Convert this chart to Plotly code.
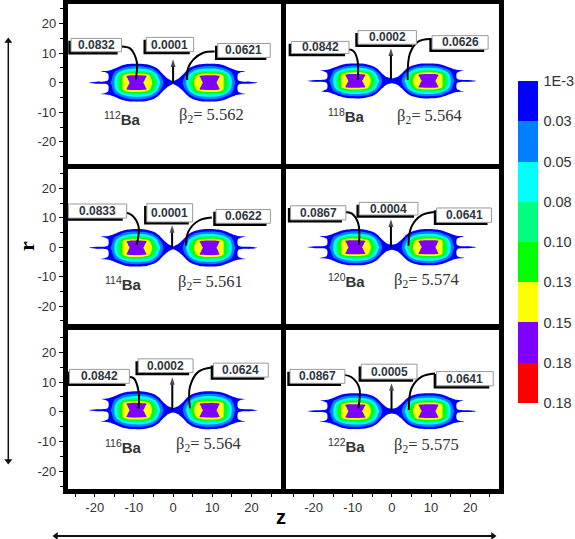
import numpy as np
import plotly.graph_objects as go
from plotly.subplots import make_subplots

# ---- colour bar ----
BAR_LABELS = ["1E-3", "0.03", "0.05", "0.08", "0.10", "0.13", "0.15", "0.18", "0.18"]
BAND_COLORS = ["#0000ff", "#0080ff", "#00ffff", "#00ff80", "#00ff00", "#ffff00", "#8000ff", "#ff0000"]

# ---- nuclei, top-left to bottom-right (row, col) ----
NUCLEI = ["112", "118", "114", "120", "116", "122"]
BETA = ["5.562", "5.564", "5.561", "5.574", "5.564", "5.575"]
LEFT_VAL = ["0.0832", "0.0842", "0.0833", "0.0867", "0.0842", "0.0867"]
MID_VAL = ["0.0001", "0.0002", "0.0001", "0.0004", "0.0002", "0.0005"]
RIGHT_VAL = ["0.0621", "0.0626", "0.0622", "0.0641", "0.0624", "0.0641"]

# ---- density field of one lobe, in colour-band position (0 = 1E-3 edge, 1 = 0.03 edge ...) ----
U_NODES = [0, 1.5, 2.5, 3.5, 4.5, 5.5, 6.5, 7.5, 9, 10.5, 11.5, 12.5, 13.5, 14.5, 15.5, 16.5, 17.5, 18.5, 19.5, 21.5, 22.5]
R_NODES = [0, 0.7, 1.4, 2.2, 3, 3.8, 4.6, 5.4, 6.2, 7]
FIELD = [
    [0.4, 0.6, 1.0, 2.3, 4.0, 5.15, 5.5, 5.95, 6.5, 6.25, 5.85, 5.4, 4.4, 2.7, 1.25, 0.7, 0.5, 0.5, 0.5, 0.0, -1],
    [-0.2, 0.5, 0.9, 2.1, 3.8, 5.1, 5.6, 6.1, 6.5, 6.3, 5.95, 5.45, 4.4, 2.7, 1.25, 0.1, -0.4, -0.5, -0.5, -1, -1],
    [-1, 0.1, 0.7, 1.8, 3.4, 4.9, 5.7, 6.2, 6.5, 6.4, 6.05, 5.5, 4.3, 2.6, 1.1, -0.05, -0.6, -1, -1, -1, -1],
    [-1, -0.5, 0.4, 1.5, 2.9, 4.5, 5.9, 6.3, 6.4, 6.4, 6.25, 5.6, 4.0, 2.3, 0.9, -0.05, -0.8, -1, -1, -1, -1],
    [-1, -1, -0.2, 0.9, 2.3, 3.7, 4.6, 5.1, 5.3, 5.3, 5.1, 4.5, 3.3, 1.7, 0.6, 0.05, -0.5, -1, -1, -1, -1],
    [-1, -1, -0.9, 0.3, 1.4, 2.3, 2.9, 3.2, 3.35, 3.3, 3.1, 2.6, 1.9, 1.2, 0.5, 0.3, 0.2, 0.05, -0.6, -1, -1],
    [-1, -1, -1, -0.3, 0.5, 1.4, 1.9, 2.15, 2.25, 2.2, 2.0, 1.6, 1.0, 0.4, -0.1, -0.6, -1, -1, -1, -1, -1],
    [-1, -1, -1, -1, -0.2, 0.4, 0.8, 1.1, 1.25, 1.2, 1.0, 0.7, 0.2, -0.4, -1, -1, -1, -1, -1, -1, -1],
    [-1, -1, -1, -1, -1, -0.5, -0.1, 0.2, 0.35, 0.3, 0.1, -0.2, -0.7, -1, -1, -1, -1, -1, -1, -1, -1],
    [-1, -1, -1, -1, -1, -1, -1, -1, -1, -1, -1, -1, -1, -1, -1, -1, -1, -1, -1, -1, -1],
]
# neck value on z = 0 for r = 0 and r = 0.7, per panel
NECK_R0 = [0.4, 0.7, 0.4, 0.7, 0.6, 0.7]
NECK_R1 = [-0.2, 0.3, -0.2, 0.3, 0.1, 0.3]
LOBE_HEIGHT = [6.5, 6.0, 6.45, 6.25, 6.45, 6.1]
LOBE_CENTER_R = [0.0, 0.6, -0.2, 0.0, 0.5, 0.2]

# ---- call-out boxes (z, r centre, width, height), per panel ----
BOX_A_Z = [-19.6, -18.3, -19.3, -18.8, -18.8, -19.0]
BOX_A_R = [12.7, 11.9, 12.3, 11.7, 11.9, 11.9]
BOX_A_W = [12.9, 14.7, 14.9, 14.1, 15.3, 14.0]
BOX_A_H = [4.5, 4.1, 4.8, 4.8, 4.7, 4.7]
BOX_B_Z = [-0.8, -1.2, -0.85, -0.85, -1.9, -0.7]
BOX_B_R = [12.9, 15.3, 11.7, 13.1, 15.5, 13.5]
BOX_B_W = [12.1, 14.9, 11.7, 15.0, 14.0, 14.2]
BOX_B_H = [4.8, 4.6, 6.2, 4.3, 4.6, 5.0]
BOX_C_Z = [18.1, 17.4, 17.9, 18.4, 17.3, 18.6]
BOX_C_R = [10.9, 13.6, 10.5, 10.9, 14.0, 11.1]
BOX_C_W = [13.4, 14.3, 13.9, 14.0, 14.0, 14.5]
BOX_C_H = [4.7, 4.6, 4.7, 4.9, 4.7, 4.8]

# ---- call-out curves and arrows ----
CURVE_L_Z = [[-13.2, -11, -9.8, -9.2, -9.5], [-11.7, -9.9, -8.8, -8.7], [-12.2, -10.5, -8.8, -9.3],
             [-12, -10.3, -8.6, -8.4], [-12, -10.1, -8.8, -8.8], [-12.4, -10.3, -8.3, -8.6]]
CURVE_L_R = [[12.2, 11.6, 9.3, 6.5, 1.1], [11.3, 10.8, 7.7, 0.9], [11.8, 10.9, 7.0, 0.8],
             [12, 11.5, 8.1, 0.8], [11.6, 11.3, 6.8, 1.1], [12.4, 11.6, 7.9, 1.1]]
CURVE_R_Z = [[10.6, 7.7, 5.1, 3.8, 3.6], [9.7, 6.7, 4.6, 4.0], [9.9, 6.5, 3.9, 3.3],
             [11, 7.6, 5, 4.2], [9.9, 6.5, 4.3, 4.3], [11, 7.6, 5, 4.3]]
CURVE_R_R = [[10.5, 10.1, 7.7, 4.8, 0.9], [14.8, 13.9, 9.9, 0.9], [10.1, 9.0, 5.3, 0.5],
             [12, 10.9, 7, 0.5], [14.9, 13.5, 8.4, 1.1], [12.9, 11.8, 7.9, 0.6]]
ARROW_Z = [0.0, -0.25, -0.25, -0.25, -0.2, -0.1]
ARROW_FROM = [0.0, 0.9, -0.3, 0.0, 0.5, 0.0]
ARROW_TO = [7.9, 11.6, 7.5, 9.5, 11.6, 9.6]

# ---- element and beta labels ----
BA_Z = [-12.9, -11.7, -12.7, -11.6, -12.7, -11.6]
BA_R = [-12.0, -11.1, -12.2, -11.3, -11.6, -11.3]
BETA_Z = [9.8, 9.7, 9.6, 8.8, 9.1, 8.8]
BETA_R = [-10.9, -11.1, -11.9, -11.3, -11.0, -11.3]

# ---- axis windows ----
X_RANGE = [[-26.9, 27.55], [-27.1, 27.4]]
Y_RANGE = [[-27.5, 26.6], [-26.1, 26.6], [-26.0, 27.5]]
TICKS = [-20, -10, 0, 10, 20]
W, H = 575, 539
COL_PX = [(67.7, 281.0), (285.7, 499.3)]
ROW_PX = [(4.0, 164.0), (169.0, 324.0), (330.0, 489.0)]

# long r and z direction arrows, on a page-wide overlay axis
R_ARROW_X = [8.3, 8.3]
R_ARROW_Y = [41, 461]
Z_ARROW_X = [56, 493]
Z_ARROW_Y = [536, 536]

INK = "#333333"
SANS = "Liberation Sans"
SERIF = "Liberation Serif"

scale = [[0, "#ffffff"], [1 / 9, "#ffffff"]]
for i, c in enumerate(BAND_COLORS):
    scale += [[(i + 1) / 9, c], [(i + 2) / 9, c]]

bar_scale = []
for i, c in enumerate(BAND_COLORS[::-1]):
    bar_scale += [[i / 8, c], [(i + 1) / 8, c]]

fig = make_subplots(rows=3, cols=2, horizontal_spacing=0.01, vertical_spacing=0.01)

u = np.array(U_NODES, dtype=float)
r = np.array(R_NODES, dtype=float)
x_grid = np.concatenate([-u[::-1], u[1:]])

for k, name in enumerate(NUCLEI):
    row, col = k // 2 + 1, k % 2 + 1
    xa = "x" if k == 0 else f"x{k + 1}"
    ya = "y" if k == 0 else f"y{k + 1}"
    q = np.array(FIELD, dtype=float)
    q[0, 0] = NECK_R0[k]
    q[1, 0] = NECK_R1[k]
    half = np.hstack([q[:, ::-1], q[:, 1:]])
    full = np.vstack([half[::-1], half[1:]])
    rr = r * LOBE_HEIGHT[k] / 6.5
    y_grid = np.concatenate([-rr[::-1], rr[1:]]) + LOBE_CENTER_R[k]
    fig.add_trace(go.Contour(
        x=x_grid, y=y_grid, z=full, zauto=False, zmin=-1, zmax=8,
        autocontour=False, contours=dict(start=-1, end=8, size=1, coloring="fill", showlines=False),
        line=dict(width=0, smoothing=0.85), colorscale=scale, showscale=False, hoverinfo="skip",
    ), row=row, col=col)

    boxes = [
        (BOX_A_Z[k], BOX_A_R[k], BOX_A_W[k], BOX_A_H[k], LEFT_VAL[k]),
        (BOX_B_Z[k], BOX_B_R[k], BOX_B_W[k], BOX_B_H[k], MID_VAL[k]),
        (BOX_C_Z[k], BOX_C_R[k], BOX_C_W[k], BOX_C_H[k], RIGHT_VAL[k]),
    ]
    for zc, rc, bw, bh, txt in boxes:
        fig.add_shape(type="rect", xref=xa, yref=ya, x0=zc - bw / 2 - 0.7, x1=zc + bw / 2 - 1.0,
                      y0=rc - bh / 2 - 0.9, y1=rc + bh / 2 - 0.8,
                      fillcolor="#000000", line=dict(width=0))
        fig.add_shape(type="rect", xref=xa, yref=ya, x0=zc - bw / 2, x1=zc + bw / 2,
                      y0=rc - bh / 2, y1=rc + bh / 2,
                      fillcolor="#ffffff", line=dict(color="#999999", width=1))
        fig.add_annotation(xref=xa, yref=ya, x=zc, y=rc, text=f"<b>{txt}</b>", showarrow=False,
                           font=dict(family=SANS, size=12, color="#2f3640"))

    for zs, rs in [(CURVE_L_Z[k], CURVE_L_R[k]), (CURVE_R_Z[k], CURVE_R_R[k])]:
        fig.add_trace(go.Scatter(x=zs, y=rs, mode="lines", showlegend=False, hoverinfo="skip",
                                 line=dict(color="#000000", width=2, shape="spline")), row=row, col=col)

    fig.add_trace(go.Scatter(x=[ARROW_Z[k], ARROW_Z[k]], y=[ARROW_FROM[k], ARROW_TO[k]],
                             mode="lines+markers", showlegend=False, hoverinfo="skip",
                             line=dict(color="#000000", width=2),
                             marker=dict(symbol="arrow", angleref="previous", size=[0, 8],
                                         color="#000000", line=dict(width=0))), row=row, col=col)

    fig.add_annotation(xref=xa, yref=ya, x=BA_Z[k], y=BA_R[k], showarrow=False,
                       text=f"<sup>{name}</sup><b>Ba</b>", font=dict(family=SANS, size=15, color=INK))
    fig.add_annotation(xref=xa, yref=ya, x=BETA_Z[k], y=BETA_R[k], showarrow=False,
                       text=f"β<sub>2</sub>= {BETA[k]}", font=dict(family=SERIF, size=16.5, color=INK))

    on_left, on_bottom = col == 1, row == 3
    common = dict(showgrid=False, zeroline=False, showline=True, linewidth=4.6, linecolor="#000000",
                  mirror=True, tickfont=dict(family=SANS, size=13, color=INK), tickmode="array",
                  tickvals=TICKS, ticktext=[str(t) for t in TICKS], tickcolor="#000000", tickwidth=1.2)
    fig.update_xaxes(common, range=X_RANGE[col - 1], row=row, col=col,
                     domain=[COL_PX[col - 1][0] / W, COL_PX[col - 1][1] / W],
                     ticks="outside" if on_bottom else "", ticklen=3, showticklabels=on_bottom,
                     minor=dict(ticks="outside" if on_bottom else "", dtick=5, tick0=0, ticklen=3,
                                tickcolor="#000000", tickwidth=1.2))
    fig.update_yaxes(common, range=Y_RANGE[row - 1], row=row, col=col,
                     domain=[1 - ROW_PX[row - 1][1] / H, 1 - ROW_PX[row - 1][0] / H],
                     ticks="outside" if on_left else "", ticklen=4, showticklabels=on_left,
                     minor=dict(ticks="outside" if on_left else "", dtick=5, tick0=0, ticklen=3,
                                tickcolor="#000000", tickwidth=1.2))

# colour bar, drawn from the band list
fig.add_trace(go.Scatter(
    x=[None], y=[None], mode="markers", showlegend=False, hoverinfo="skip",
    marker=dict(color=[0], cmin=0, cmax=8, colorscale=bar_scale, showscale=True,
                colorbar=dict(
                    x=517.7 / W, xanchor="left", y=1 - 81 / H, yanchor="top",
                    lenmode="pixels", len=322, thicknessmode="pixels", thickness=19.6,
                    outlinewidth=0, xpad=0, ypad=0, tickmode="array",
                    tickvals=list(range(9)), ticktext=BAR_LABELS[::-1],
                    ticks="outside", ticklen=3, tickcolor="rgba(0,0,0,0)",
                    tickfont=dict(family=SANS, size=14.5, color=INK))),
))

# axis titles and long arrows
fig.add_annotation(xref="paper", yref="paper", x=27 / W, y=1 - 246 / H, text="<b>r</b>", textangle=-90,
                   xanchor="center", yanchor="middle", showarrow=False,
                   font=dict(family=SERIF, size=22, color="#000000"))
fig.add_annotation(xref="paper", yref="paper", x=281 / W, y=1 - 517 / H, text="<b>z</b>", showarrow=False,
                   xanchor="center", yanchor="middle", font=dict(family=SANS, size=20, color="#000000"))
for xs, ys, lw, symbols in [(R_ARROW_X, R_ARROW_Y, 1.5, ["triangle-up", "triangle-down"]),
                            (Z_ARROW_X, Z_ARROW_Y, 2, ["triangle-left", "triangle-right"])]:
    fig.add_trace(go.Scatter(x=xs, y=ys, xaxis="x7", yaxis="y7", mode="lines+markers", showlegend=False,
                             hoverinfo="skip", cliponaxis=False, line=dict(color="#111111", width=lw),
                             marker=dict(symbol=symbols, size=7, color="#111111", line=dict(width=0))))

fig.update_layout(width=W, height=H, margin=dict(l=0, r=0, t=0, b=0), showlegend=False,
                  paper_bgcolor="#ffffff", plot_bgcolor="rgba(0,0,0,0)",
                  xaxis7=dict(domain=[0, 1], range=[0, W], visible=False, anchor="y7", fixedrange=True),
                  yaxis7=dict(domain=[0, 1], range=[H, 0], visible=False, anchor="x7", fixedrange=True))
fig.write_html("out.html", config={"displayModeBar": False},
               post_script="document.body.style.margin='0';document.body.style.overflow='hidden';")
